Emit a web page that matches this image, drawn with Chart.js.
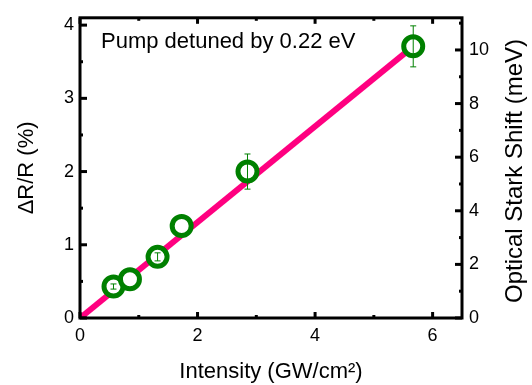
<!DOCTYPE html>
<html>
<head>
<meta charset="utf-8">
<script src="https://cdn.jsdelivr.net/npm/chart.js@4/dist/chart.umd.min.js"></script>
<style>
  html, body { margin: 0; padding: 0; background: #fff; }
  #wrap { width: 532px; height: 385px; }
</style>
</head>
<body>
<div id="wrap"><canvas id="myChart" width="532" height="385"></canvas></div>
<script>
// measured points (intensity in GW/cm2, dR/R in %)
var intensity = [0.57, 0.85, 1.32, 1.73, 2.85, 5.67];
var deltaR = [0.43, 0.53, 0.835, 1.257, 2.0, 3.71];
var errR = [0.035, 0, 0.055, 0, 0.24, 0.28];

// linear fit drawn as a line
var fitX = [0, 5.67];
var fitY = [0, 3.71];

var xTicks = [0, 2, 4, 6];
var yTicks = [0, 1, 2, 3, 4];
var y2Ticks = [0, 2, 4, 6, 8, 10];

var pts = intensity.map(function (v, i) { return { x: v, y: deltaR[i] }; });
var fit = fitX.map(function (v, i) { return { x: v, y: fitY[i] }; });

const font = "Arial, 'Liberation Sans', sans-serif";

// frame, inward ticks, error bars, labels
const decor = {
    id: 'decor',
    afterDatasetsDraw(chart) {
        const ctx = chart.ctx;
        const a = chart.chartArea;
        const sx = chart.scales.x, sy = chart.scales.y, sy2 = chart.scales.y2;

        // error bars
        ctx.save();
        ctx.strokeStyle = '#008000';
        ctx.lineWidth = 1;
        pts.forEach(function (p, i) {
            if (!errR[i]) return;
            const px = sx.getPixelForValue(p.x);
            const top = sy.getPixelForValue(p.y + errR[i]);
            const bot = sy.getPixelForValue(p.y - errR[i]);
            ctx.beginPath();
            ctx.moveTo(px, top); ctx.lineTo(px, bot);
            ctx.moveTo(px - 3, top); ctx.lineTo(px + 3, top);
            ctx.moveTo(px - 3, bot); ctx.lineTo(px + 3, bot);
            ctx.stroke();
        });
        ctx.restore();

        ctx.save();
        ctx.strokeStyle = '#000';
        ctx.lineWidth = 3;
        ctx.strokeRect(a.left, a.top, a.right - a.left, a.bottom - a.top);

        function tick(x1, y1, x2, y2) {
            ctx.beginPath(); ctx.moveTo(x1, y1); ctx.lineTo(x2, y2); ctx.stroke();
        }
        // x ticks (bottom + top)
        for (let v = 0; v <= 6.5; v += 1) {
            const px = sx.getPixelForValue(v);
            const len = (v % 2 === 0) ? 6 : 3;
            tick(px, a.bottom, px, a.bottom - len);
            tick(px, a.top, px, a.top + len);
        }
        // left ticks
        for (let v = 0; v <= 4.1; v += 0.5) {
            const py = sy.getPixelForValue(v);
            const len = (v % 1 === 0) ? 7 : 3;
            tick(a.left, py, a.left + len, py);
        }
        // right ticks
        for (let v = 0; v <= 11.2; v += 1) {
            const py = sy2.getPixelForValue(v);
            const len = (v % 2 === 0) ? 7 : 3;
            tick(a.right, py, a.right - len, py);
        }

        ctx.fillStyle = '#000';
        ctx.font = '22px ' + font;
        ctx.textBaseline = 'middle';
        ctx.fillText('Pump detuned by 0.22 eV', 101, 42);

        // right axis title, reads bottom to top
        ctx.translate(515, 171);
        ctx.rotate(-Math.PI / 2);
        ctx.textAlign = 'center';
        ctx.font = '24px ' + font;
        ctx.fillText('Optical Stark Shift (meV)', 0, 0);
        ctx.restore();
    }
};

function keep(list) {
    return function (scale) {
        scale.ticks = list.map(function (v) { return { value: v }; });
    };
}

const ctx = document.getElementById('myChart');

var myChart = new Chart(ctx, {
    type: 'scatter',
    data: {
        datasets: [{
            type: 'line',
            data: pts,
            showLine: false,
            pointRadius: 9.5,
            pointBorderWidth: 5,
            pointBorderColor: '#008000',
            pointBackgroundColor: '#ffffff',
            pointHoverRadius: 9.5,
            order: 1
        }, {
            type: 'line',
            data: fit,
            borderColor: '#FF0080',
            borderWidth: 6,
            pointRadius: 0,
            fill: false,
            borderCapStyle: 'butt',
            order: 2
        }]
    },
    options: {
        responsive: false,
        animation: false,
        events: [],
        layout: { padding: { top: 10, left: 0, right: 0, bottom: 0 } },
        plugins: { legend: { display: false }, tooltip: { enabled: false } },
        scales: {
            x: {
                type: 'linear',
                min: 0, max: 6.5,
                afterBuildTicks: keep(xTicks),
                afterFit: function (s) { s.height = 67; },
                grid: { display: false, drawTicks: false },
                border: { display: false },
                ticks: { color: '#000', font: { size: 18, family: font }, padding: 7 },
                title: {
                    display: true, text: 'Intensity (GW/cm²)', color: '#000',
                    font: { size: 22, family: font }, padding: { top: 12, bottom: 0 }
                }
            },
            y: {
                type: 'linear', position: 'left',
                min: 0, max: 4.1,
                afterBuildTicks: keep(yTicks),
                afterFit: function (s) { s.width = 80; },
                grid: { display: false, drawTicks: false },
                border: { display: false },
                ticks: { color: '#000', font: { size: 18, family: font }, padding: 6 },
                title: {
                    display: true, text: 'ΔR/R (%)', color: '#000',
                    font: { size: 22, family: font }, padding: { top: 14, bottom: 0 }
                }
            },
            y2: {
                type: 'linear', position: 'right',
                min: 0, max: 11.2,
                afterBuildTicks: keep(y2Ticks),
                afterFit: function (s) { s.width = 70; },
                grid: { display: false, drawTicks: false },
                border: { display: false },
                ticks: { color: '#000', font: { size: 18, family: font }, padding: 7 },
                title: { display: false }
            }
        }
    },
    plugins: [decor]
});
</script>
</body>
</html>
